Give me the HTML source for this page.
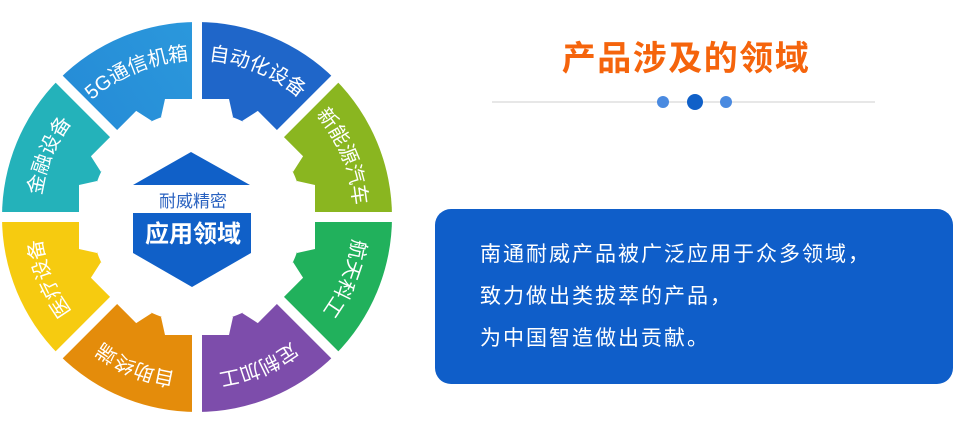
<!DOCTYPE html>
<html><head><meta charset="utf-8"><style>
html,body{margin:0;padding:0;background:#fff;width:954px;height:433px;overflow:hidden;font-family:"Liberation Sans","Noto Sans CJK SC",sans-serif}
.t{position:absolute;left:0;top:0}
</style></head><body>
<svg class="t" width="954" height="433" viewBox="0 0 954 433" xmlns="http://www.w3.org/2000/svg">
<defs>
<linearGradient id="g5" x1="0" y1="1" x2="1" y2="0"><stop offset="0" stop-color="#2386d4"/><stop offset="1" stop-color="#2b98dc"/></linearGradient>
<path id="circ" d="M197,60 A157,157 0 1 1 197,374 A157,157 0 1 1 197,60"/>
</defs>
<g transform="translate(197,217)">
<path d="M0,0 L0,-195 A195,195 0 0 1 137.9,-137.9 Z" fill="#1f66c9"/>
<path d="M0,0 L137.9,-137.9 A195,195 0 0 1 195,0 Z" fill="#8ab620"/>
<path d="M0,0 L195,0 A195,195 0 0 1 137.9,137.9 Z" fill="#21b15c"/>
<path d="M0,0 L137.9,137.9 A195,195 0 0 1 0,195 Z" fill="#7d4dab"/>
<path d="M0,0 L0,195 A195,195 0 0 1 -137.9,137.9 Z" fill="#e48c0b"/>
<path d="M0,0 L-137.9,137.9 A195,195 0 0 1 -195,0 Z" fill="#f6cb10"/>
<path d="M0,0 L-195,0 A195,195 0 0 1 -137.9,-137.9 Z" fill="#24b2ba"/>
<path d="M0,0 L-137.9,-137.9 A195,195 0 0 1 0,-195 Z" fill="url(#g5)"/>
<g stroke="#fff" stroke-width="10">
<line x1="0" y1="-200" x2="0" y2="200"/><line x1="-200" y1="0" x2="200" y2="0"/>
<line x1="-145" y1="-145" x2="145" y2="145"/><line x1="-145" y1="145" x2="145" y2="-145"/>
</g>
<circle r="106" fill="#fff"/>
<g fill="#fff">
<polygon points="-36,-100 -32,-118 32,-118 36,-100"/>
<polygon points="-36,-100 -32,-118 32,-118 36,-100" transform="rotate(45)"/>
<polygon points="-36,-100 -32,-118 32,-118 36,-100" transform="rotate(90)"/>
<polygon points="-36,-100 -32,-118 32,-118 36,-100" transform="rotate(135)"/>
<polygon points="-36,-100 -32,-118 32,-118 36,-100" transform="rotate(180)"/>
<polygon points="-36,-100 -32,-118 32,-118 36,-100" transform="rotate(225)"/>
<polygon points="-36,-100 -32,-118 32,-118 36,-100" transform="rotate(270)"/>
<polygon points="-36,-100 -32,-118 32,-118 36,-100" transform="rotate(315)"/>
</g>
</g>
<g font-size="20" fill="#fff" font-family="Liberation Sans,Noto Sans CJK SC,sans-serif" text-anchor="middle">
<text><textPath href="#circ" startOffset="93.75%">5G通信机箱</textPath></text>
<text><textPath href="#circ" startOffset="6.25%">自动化设备</textPath></text>
<text><textPath href="#circ" startOffset="18.75%">新能源汽车</textPath></text>
<text><textPath href="#circ" startOffset="31.25%">航天科工</textPath></text>
<text><textPath href="#circ" startOffset="43.75%">定制加工</textPath></text>
<text><textPath href="#circ" startOffset="56.25%">自助终端</textPath></text>
<text><textPath href="#circ" startOffset="68.75%">医疗设备</textPath></text>
<text><textPath href="#circ" startOffset="81.25%">金融设备</textPath></text>
</g>
<polygon points="191,152 250,185 133,185" fill="#1060c8"/>
<polygon points="133,213 251,213 251,253 192,287 133,253" fill="#1060c8"/>
<text x="193" y="207" font-size="17" fill="#2a62c0" text-anchor="middle">耐威精密</text>
<text x="193" y="242" font-size="24" font-weight="bold" fill="#fff" text-anchor="middle">应用领域</text>
<text x="686" y="70" font-size="34" font-weight="bold" fill="#f5640c" text-anchor="middle" letter-spacing="1.5">产品涉及的领域</text>
<line x1="492" y1="102" x2="875" y2="102" stroke="#cfcfcf" stroke-width="1"/>
<circle cx="663" cy="102" r="6" fill="#4a8ae0"/>
<circle cx="695" cy="102" r="8" fill="#1060c8"/>
<circle cx="726" cy="102" r="6" fill="#4a8ae0"/>
<rect x="435" y="209" width="518" height="175" rx="16" fill="#0f5ec9"/>
<g font-size="21" fill="#fff" letter-spacing="2">
<text x="480" y="261">南通耐威产品被广泛应用于众多领域，</text>
<text x="480" y="303">致力做出类拔萃的产品，</text>
<text x="480" y="345">为中国智造做出贡献。</text>
</g>
</svg>
</body></html>
